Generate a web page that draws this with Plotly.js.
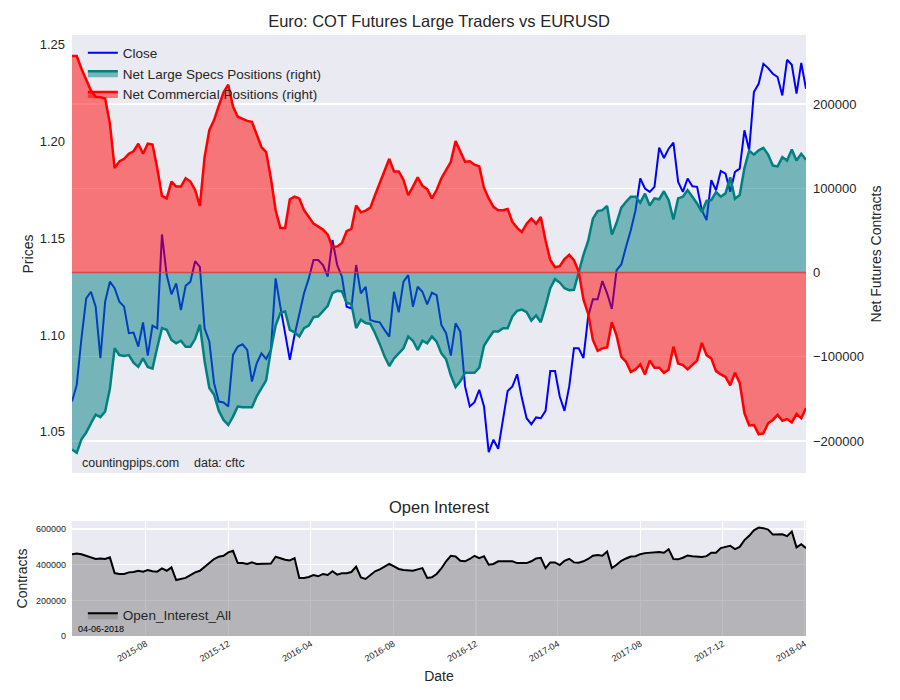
<!DOCTYPE html>
<html>
<head>
<meta charset="utf-8">
<script src="https://cdn.plot.ly/plotly-3.0.1.min.js"></script>
<style>html,body{margin:0;padding:0;background:#fff;}#chart{width:900px;height:700px;}</style>
</head>
<body>
<div id="chart"></div>
<script>
// Weekly COT report dates (Tuesdays), first report and count
const firstReport = '2015-04-14';

// EURUSD close (left axis)
const closePrices = [1.0656,1.0742,1.0983,1.1189,1.1223,1.1146,1.0880,1.1172,1.1275,1.1241,1.1172,1.1146,1.1009,1.1012,1.0940,1.1065,1.0893,1.1048,1.1034,1.1519,1.1309,1.1210,1.1266,1.1129,1.1254,1.1275,1.1381,1.1352,1.1034,1.0966,1.0751,1.0656,1.0651,1.0631,1.0897,1.0940,1.0952,1.0923,1.0759,1.0854,
1.0905,1.0876,1.0923,1.1292,1.1146,1.1000,1.0871,1.1000,1.1103,1.1215,1.1292,1.1387,1.1387,1.1361,1.1301,1.1490,1.1361,1.1301,1.1146,1.1137,1.1361,1.1215,1.1249,1.1077,1.1069,1.1065,1.1026,1.0991,1.1223,1.1117,1.1275,1.1309,1.1146,1.1249,1.1223,1.1158,1.1218,1.1206,1.1052,
1.1009,1.0893,1.1060,1.1017,1.0734,1.0631,1.0653,1.0717,1.0631,1.0395,1.0459,1.0412,1.0570,1.0711,1.0734,1.0797,1.0674,1.0570,1.0539,1.0574,1.0570,1.0608,1.0814,1.0814,1.0682,1.0608,1.0734,1.0931,1.0931,1.0880,1.1095,1.1184,1.1184,1.1278,1.1215,1.1134,1.1335,1.1364,1.1455,
1.1541,1.1644,1.1808,1.1756,1.1739,1.1765,1.1967,1.1914,1.1962,1.1993,1.1790,1.1739,1.1808,1.1768,1.1765,1.1644,1.1593,1.1799,1.1747,1.1847,1.1833,1.1739,1.1842,1.1859,1.2057,1.1954,1.2254,1.2297,1.2400,1.2378,1.2349,1.2332,1.2237,1.2421,1.2395,1.2246,1.2405,1.2271];

// Net Large Specs positions, thousands of contracts (right axis)
const netSpecsK = [-210,-214,-198,-190,-179,-168.8,-171.6,-164.9,-137.9,-89.8,-98,-99,-98,-107,-112,-102,-112,-114,-89,-66,-68,-80,-84,-81,-88,-88,-79,-62,-105,-137,-145,-164,-175,-181,-171,-159,-160,-160,-160,-147,
-138,-128,-92,-63,-48,-46,-68,-71,-76,-66,-63,-53,-52,-46,-39.5,-24.5,-21.7,-22.5,-36,-37.5,-66,-56,-60,-61,-72,-85,-99.5,-111,-102,-96,-90,-76,-81,-92,-81,-84,-76,-82,-96,
-103,-122,-136,-129,-119,-119,-119,-113,-87,-78,-70,-70,-66,-66,-52,-45.4,-44,-47,-57,-51,-59,-40,-18.6,-7.9,-11.9,-18.6,-21,-20.5,0.4,21,37.5,64,73,74,79,45,59,77,84,
90,90,83,93.6,79.6,88,87,96.5,86,63,88,90,97.8,90,82,72,85,86,95.6,90,94,113,87.5,92,124,144.6,140,145,148,140,127,126,137,133,146,133,141,134];

// Net Commercial positions, thousands of contracts (right axis)
const netCommercialK = [257,257,242,228,216,208.6,208,206.5,177,124,132,135,141,144,153,141,153,152,124,91,88,108,102,102,112,108,98,79,137,169,181,198,214,223,197,185,182,180,179,163,
149,143,112,74,53,53,87,90,88,74,66,58,54.5,51,45,30,31,35,49,52,79.6,71.5,73.5,77,92,106,122,135,120,120,110,92,102,113,103,99,88,98,112,
121.7,131.5,156,144,131.5,132,128,126,100.7,88,78,74,74,75.5,60,53,48,58,64,58,66,38,15,6.3,7.5,16,21,14.6,1.2,-32,-49,-80,-93,-90,-89,-59,-75,-100,-106,
-118,-115,-109,-121,-104.6,-113,-113,-119,-115,-88,-108,-110,-115,-110,-104.6,-83.5,-98,-102,-117,-121,-124,-134,-119,-131,-167,-181.5,-181,-192,-191,-179,-175,-169,-176,-174,-178,-168,-173,-161];

// Open interest, thousands of contracts
const openInterestK = [459,463,459,450,441,432,435,432,441,353,348,348,357,359,366,361,370,363,361,379,
366,385,314,318,326,342,357,366,389,413,432,445,450,469,478,409,409,404,413,404,
404,405,407,445,435,428,424,437,326,326,331,342,335,348,342,363,344,352,352,359,
389,329,320,339,363,374,389,404,391,376,370,366,366,374,381,326,329,348,379,419,
450,446,422,419,432,450,437,448,400,404,419,419,419,419,409,411,409,419,435,439,
381,413,413,398,422,433,413,411,419,432,450,454,450,474,381,400,422,435,446,448,
459,465,467,467,471,467,487,432,430,439,452,448,446,443,448,467,467,493,500,506,
487,500,538,562,593,608,605,597,569,571,571,560,586,497,515,493];

const priceTicks = [1.05, 1.10, 1.15, 1.20, 1.25];
const netTicks = [-200000, -100000, 0, 100000, 200000];
const oiTicks = [0, 200000, 400000, 600000];

const K = 1000;
const t0 = Date.parse(firstReport + 'T00:00:00Z');
const dates = closePrices.map((_, i) => new Date(t0 + i * 7 * 86400000).toISOString().slice(0, 10));
const d0 = dates[0], dN = dates[dates.length - 1];

const FONT = 'Liberation Sans, Arial, Helvetica, sans-serif';
const TXT = '#262626';

const traces = [
  {x: dates, y: closePrices, type: 'scatter', mode: 'lines', name: 'Close',
   xaxis: 'x', yaxis: 'y', line: {color: '#0000FF', width: 2}, legend: 'legend'},
  {x: dates, y: netSpecsK.map(v => v * K), type: 'scatter', mode: 'lines', name: 'Net Large Specs Positions (right)',
   xaxis: 'x', yaxis: 'y2', fill: 'tozeroy', fillcolor: 'rgba(0,128,128,0.5)',
   line: {color: '#008080', width: 2.5}, legend: 'legend'},
  {x: dates, y: netCommercialK.map(v => v * K), type: 'scatter', mode: 'lines', name: 'Net Commercial Positions (right)',
   xaxis: 'x', yaxis: 'y2', fill: 'tozeroy', fillcolor: 'rgba(255,0,0,0.5)',
   line: {color: '#FF0000', width: 2.5}, legend: 'legend'},
  {x: dates, y: openInterestK.map(v => v * K), type: 'scatter', mode: 'lines', name: 'Open_Interest_All',
   xaxis: 'x2', yaxis: 'y3', fill: 'tozeroy', fillcolor: 'rgba(128,128,128,0.5)',
   line: {color: '#000000', width: 2}, legend: 'legend2'}
];

const layout = {
  width: 900, height: 700,
  margin: {l: 72, r: 94, t: 35, b: 64},
  paper_bgcolor: '#FFFFFF', plot_bgcolor: '#EAEAF2',
  font: {family: FONT, color: TXT, size: 13},
  title: {text: 'Euro: COT Futures Large Traders vs EURUSD', font: {size: 16.5, color: TXT},
          x: 0.5, xref: 'paper', xanchor: 'center', y: 0.97, yref: 'container', yanchor: 'middle'},
  showlegend: true,
  xaxis: {domain: [0, 1], anchor: 'y', type: 'date', range: [d0, dN], showticklabels: false,
          showgrid: false, zeroline: false, showline: false, ticks: ''},
  yaxis: {domain: [0.2712, 1], anchor: 'x', range: [1.0287, 1.2549], tickvals: priceTicks, tickformat: '.2f',
          showgrid: false, zeroline: false, showline: false, ticks: '', ticklabelstandoff: 6,
          tickfont: {size: 13, color: TXT},
          title: {text: 'Prices', font: {size: 14, color: TXT}, standoff: 2}},
  yaxis2: {overlaying: 'y', side: 'right', anchor: 'x', range: [-238000, 282000], tickvals: netTicks, tickformat: 'd',
           showgrid: true, gridcolor: '#FFFFFF', gridwidth: 1.3, zeroline: false, showline: false, ticks: '',
           ticklabelstandoff: 6, tickfont: {size: 13, color: TXT},
           title: {text: 'Net Futures Contracts', font: {size: 14, color: TXT}, standoff: 8}},
  xaxis2: {domain: [0, 1], anchor: 'y3', type: 'date', range: [d0, dN], tickformat: '%Y-%m', dtick: 'M4', tick0: '2015-08-01',
           tickangle: -30, tickfont: {size: 9, color: TXT}, showgrid: true, gridcolor: '#FFFFFF', gridwidth: 1.3,
           zeroline: false, showline: false, ticks: '',
           title: {text: 'Date', font: {size: 14, color: TXT}, standoff: 8}},
  yaxis3: {domain: [0, 0.1913], anchor: 'x2', range: [0, 645000], tickvals: oiTicks, tickformat: 'd',
           showgrid: true, gridcolor: '#FFFFFF', gridwidth: 1.3, zeroline: false, showline: false, ticks: '',
           ticklabelstandoff: 5, tickfont: {size: 9, color: TXT},
           title: {text: 'Contracts', font: {size: 14, color: TXT}, standoff: 5}},
  legend: {x: 0.0148, y: 0.9958, xanchor: 'left', yanchor: 'top', bgcolor: 'rgba(0,0,0,0)',
           font: {size: 13.5, color: TXT}, traceorder: 'normal'},
  legend2: {x: 0.0148, y: 0.06, xanchor: 'left', yanchor: 'top', bgcolor: 'rgba(0,0,0,0)',
            font: {size: 13.5, color: TXT}},
  shapes: [
    {type: 'line', xref: 'x', yref: 'y2', x0: d0, x1: dN, y0: 0, y1: 0,
     line: {color: 'rgba(215,60,60,0.85)', width: 1.5}, layer: 'above'}
  ],
  annotations: [
    {text: 'countingpips.com', xref: 'paper', yref: 'paper', x: 0.0115, y: 0.288, xanchor: 'left', yanchor: 'middle',
     showarrow: false, font: {size: 12.5, color: TXT}},
    {text: 'data: cftc', xref: 'paper', yref: 'paper', x: 0.163, y: 0.288, xanchor: 'left', yanchor: 'middle',
     showarrow: false, font: {size: 12.5, color: TXT}},
    {text: 'Open Interest', xref: 'paper', yref: 'paper', x: 0.5, y: 0.2146, xanchor: 'center', yanchor: 'middle',
     showarrow: false, font: {size: 16.5, color: TXT}},
    {text: '04-06-2018', xref: 'paper', yref: 'paper', x: 0.006, y: 0.011, xanchor: 'left', yanchor: 'middle',
     showarrow: false, font: {size: 9, color: '#000000'}}
  ]
};

Plotly.newPlot('chart', traces, layout, {displayModeBar: false, staticPlot: true});
</script>
</body>
</html>
